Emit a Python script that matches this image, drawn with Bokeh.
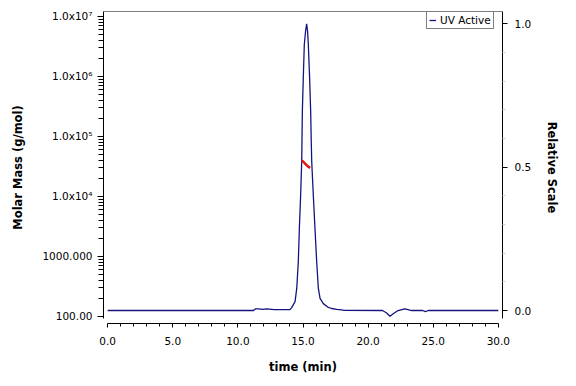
from bokeh.plotting import figure
from bokeh.models import (Range1d, LinearAxis, LinearScale, FixedTicker, PrintfTickFormatter,
                          Legend, LegendItem, Span)
from bokeh.embed import file_html
from bokeh.resources import INLINE

# UV detector trace, relative scale, against elution time (min)
time_uv = [0.0, 11.2, 11.35, 11.6, 11.9, 12.2, 12.6, 12.8, 14.0, 14.13, 14.39, 14.52,
           14.64, 14.72, 14.82, 14.90, 14.95, 15.02, 15.10, 15.20, 15.28, 15.35, 15.41,
           15.51, 15.59, 15.64, 15.67, 15.79, 15.92, 16.05, 16.18, 16.31, 16.56, 16.9,
           17.2, 17.6, 18.1, 21.1, 21.4, 21.68, 21.9, 22.3, 22.83, 23.35, 24.2, 24.4,
           24.62, 30.0]
uv_rel = [0.0, 0.0, 0.006, 0.006, 0.004, 0.006, 0.004, 0.003, 0.003, 0.010, 0.031, 0.077,
          0.171, 0.286, 0.404, 0.519, 0.693, 0.808, 0.927, 0.975, 1.0, 0.975, 0.927,
          0.808, 0.693, 0.578, 0.519, 0.404, 0.286, 0.171, 0.077, 0.042, 0.024, 0.012,
          0.007, 0.004, 0.001, 0.0, -0.008, -0.020, -0.012, 0.0, 0.006, 0.0, 0.0, -0.004,
          0.0, 0.0]

# Molar mass (g/mol) across the main peak
time_mm = [14.9, 15.0, 15.1, 15.2, 15.3, 15.4, 15.55]
molar_mass = [40000, 38500, 36500, 34500, 33000, 31500, 30000]

# Axis ticks and their labels
time_ticks = [0, 5, 10, 15, 20, 25, 30]
mm_ticks = [100, 1000, 1e4, 1e5, 1e6, 1e7]
mm_tick_labels = ["100.00", "1000.000", "1.0x10\u2074", "1.0x10\u2075", "1.0x10\u2076", "1.0x10\u2077"]
rel_ticks = [0.0, 0.5, 1.0]

# Axis extents
X_LO, X_HI = -0.32, 30.32
LOG_LO, LOG_HI = 1.8833, 7.0833
REL_LO, REL_HI = -0.0453, 1.0429
LOG_GAP, REL_GAP = 0.0833, 0.01744   # left/right axis lines stop short of the time axis

TICK_FONT = "DejaVu Sans"
TICK_SIZE = "10.5px"
TITLE_SIZE = "11.5px"

p = figure(width=576, height=386, output_backend="svg", toolbar_location=None,
           x_range=Range1d(X_LO, X_HI),
           y_range=Range1d(10 ** LOG_LO, 10 ** LOG_HI),
           y_axis_type="log",
           min_border_left=103, min_border_right=74,
           min_border_top=11, min_border_bottom=63)
p.extra_y_ranges = {"rel": Range1d(REL_LO, REL_HI)}
p.extra_y_scales = {"rel": LinearScale()}
p.grid.visible = False
p.outline_line_color = None
p.background_fill_color = "white"
p.border_fill_color = "white"

# Time axis
xa = p.xaxis[0]
xa.ticker = FixedTicker(ticks=time_ticks, minor_ticks=[m for m in range(1, 30) if m % 5])
xa.formatter = PrintfTickFormatter(format="%.1f")
xa.bounds = (0, 30)
xa.axis_label = "time (min)"

# Molar mass axis
ya = p.yaxis[0]
minor_mm = [k * 10 ** e for e in range(2, 7) for k in range(2, 10)]
ya.ticker = FixedTicker(ticks=mm_ticks, minor_ticks=minor_mm)
ya.major_label_overrides = {t: lab for t, lab in zip(mm_ticks, mm_tick_labels)}
ya.bounds = (10 ** (LOG_LO + LOG_GAP), 10 ** LOG_HI)
ya.axis_label = "Molar Mass (g/mol)"

# Relative scale axis
ra = LinearAxis(y_range_name="rel",
                ticker=FixedTicker(ticks=rel_ticks,
                                   minor_ticks=[i / 10 for i in range(1, 10) if i != 5]),
                formatter=PrintfTickFormatter(format="%.1f"),
                axis_label="Relative Scale",
                bounds=(REL_LO + REL_GAP, REL_HI))
p.add_layout(ra, "right")

for ax in (xa, ya, ra):
    ax.axis_line_color = "black"
    ax.axis_line_width = 1
    ax.major_tick_line_color = "black"
    ax.major_tick_in = 0
    ax.minor_tick_in = 0
    ax.major_label_text_font = TICK_FONT
    ax.major_label_text_font_size = TICK_SIZE
    ax.major_label_text_color = "black"
    ax.axis_label_text_font = TICK_FONT
    ax.axis_label_text_font_size = TITLE_SIZE
    ax.axis_label_text_font_style = "bold"
    ax.axis_label_text_color = "black"

xa.major_tick_out = 4
xa.minor_tick_out = 3
xa.minor_tick_line_color = "black"
xa.major_label_standoff = 9
xa.axis_label_standoff = 12

ya.major_tick_out = 6
ya.minor_tick_out = 5
ya.minor_tick_line_color = "black"
ya.major_label_standoff = 5
ya.axis_label_standoff = 14

ra.major_tick_out = 5
ra.minor_tick_out = 3
ra.minor_tick_line_color = "#d0d0d0"
ra.major_label_standoff = 7
ra.axis_label_standoff = 11

# Top edge of the plot box
p.add_layout(Span(location=10 ** LOG_HI, dimension="width",
                  line_color="black", line_width=1))

uv = p.line(time_uv, uv_rel, y_range_name="rel", line_color="#141480", line_width=1.3)
p.line(time_mm, molar_mass, line_color="#e01414", line_width=2.5)

legend = Legend(items=[LegendItem(label="UV Active", renderers=[uv])],
                location=(323, 294),
                label_text_font=TICK_FONT, label_text_font_size=TICK_SIZE,
                label_text_color="black",
                glyph_width=7, glyph_height=12, label_height=12,
                label_standoff=4, padding=2, spacing=0, margin=0,
                border_line_color="black", border_line_width=1,
                background_fill_color="white", background_fill_alpha=1.0)
p.add_layout(legend)

open("out.html", "w").write(file_html(p, INLINE))
